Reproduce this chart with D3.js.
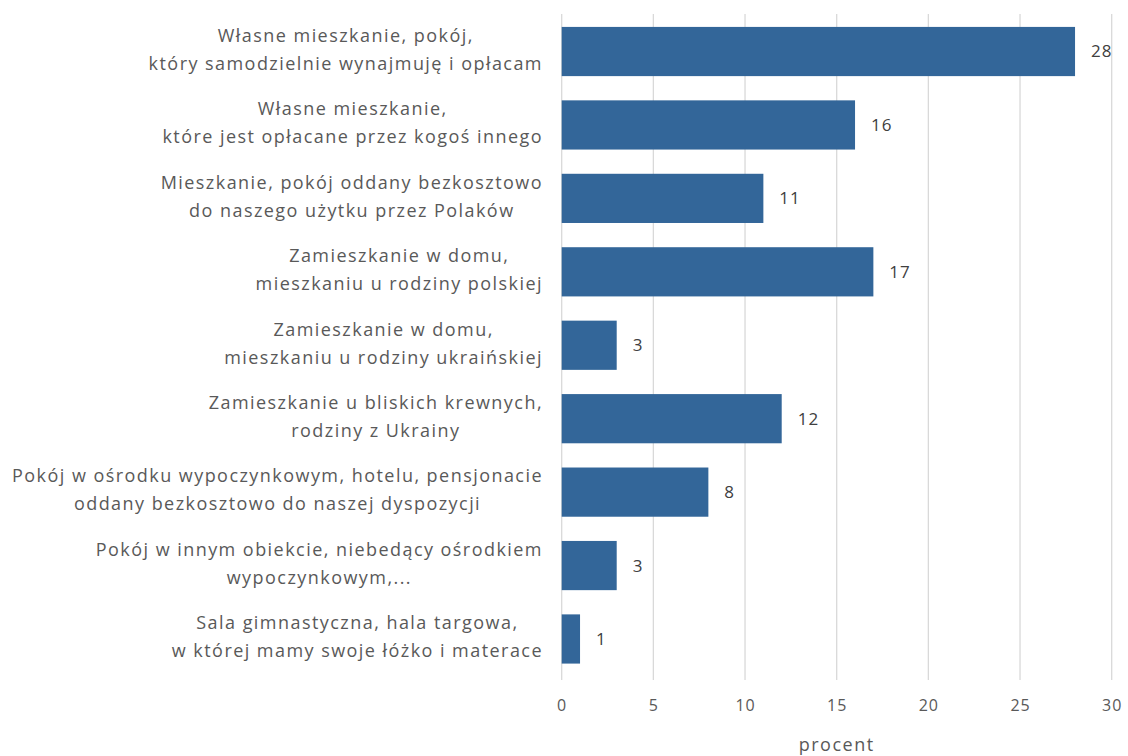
<!DOCTYPE html>
<html><head><meta charset="utf-8">
<script src="https://cdn.jsdelivr.net/npm/d3@7"></script>
<style>body{margin:0;background:#fff}</style>
</head><body>
<svg id="c" width="1128" height="756"></svg>
<script>
const categories = [
  ["Własne mieszkanie, pokój,", "który samodzielnie wynajmuję i opłacam"],
  ["Własne mieszkanie,", "które jest opłacane przez kogoś innego"],
  ["Mieszkanie, pokój oddany bezkosztowo", "do naszego użytku przez Polaków"],
  ["Zamieszkanie w domu,", "mieszkaniu u rodziny polskiej"],
  ["Zamieszkanie w domu,", "mieszkaniu u rodziny ukraińskiej"],
  ["Zamieszkanie u bliskich krewnych,", "rodziny z Ukrainy"],
  ["Pokój w ośrodku wypoczynkowym, hotelu, pensjonacie", "oddany bezkosztowo do naszej dyspozycji"],
  ["Pokój w innym obiekcie, niebedący ośrodkiem", "wypoczynkowym,..."],
  ["Sala gimnastyczna, hala targowa,", "w której mamy swoje łóżko i materace"]
];
const values = [28, 16, 11, 17, 3, 12, 8, 3, 1];
const xTicks = [0, 5, 10, 15, 20, 25, 30];
const axisTitle = "procent";

const svg = d3.select("#c");
const font = "'Open Sans', sans-serif";
const x = d3.scaleLinear().domain([0, 30]).range([561.7, 1111.7]);
const y = d3.scaleBand().domain(d3.range(categories.length)).range([14.8, 675.7]).paddingInner(0.33).paddingOuter(0.165);

// gridlines
svg.append("g").selectAll("line").data(xTicks).join("line")
  .attr("x1", d => x(d)).attr("x2", d => x(d))
  .attr("y1", 14).attr("y2", 680)
  .attr("stroke", "#d9d9d9").attr("stroke-width", 1.3);

// bars
svg.append("g").selectAll("rect").data(values).join("rect")
  .attr("x", x(0)).attr("y", (d, i) => y(i))
  .attr("width", d => x(d) - x(0)).attr("height", y.bandwidth())
  .attr("fill", "#336699");

// value labels
svg.append("g").selectAll("text").data(values).join("text")
  .attr("x", d => x(d) + 16).attr("y", (d, i) => y(i) + y.bandwidth() / 2)
  .attr("dy", "0.35em")
  .attr("font-family", font).attr("font-size", 17).attr("letter-spacing", 1)
  .attr("fill", "#404040")
  .text(d => d);

// category labels
const right = 543;
categories.forEach((lines, i) => {
  const g = svg.append("g");
  const cy = y(i) + y.bandwidth() / 2 - 2;
  const ts = lines.map((t, j) => g.append("text")
    .attr("y", cy + (j - (lines.length - 1) / 2) * 28)
    .attr("dy", "0.35em")
    .attr("font-family", font).attr("font-size", 18).attr("letter-spacing", 1.45)
    .attr("fill", "#595959")
    .attr("text-anchor", "middle").text(t));
  const maxW = d3.max(ts, t => t.node().getComputedTextLength());
  ts.forEach(t => t.attr("x", right - maxW / 2));
});

// x axis tick labels
const axis = d3.axisBottom(x).tickValues(xTicks).tickSize(0).tickPadding(0);
const ag = svg.append("g").attr("transform", "translate(0,700)").call(axis);
ag.select(".domain").remove();
ag.selectAll("text").attr("font-family", font).attr("font-size", 16)
  .attr("letter-spacing", 1).attr("fill", "#595959");

svg.append("text").attr("x", (x(0) + x(30)) / 2).attr("y", 751)
  .attr("text-anchor", "middle").attr("font-family", font).attr("font-size", 18)
  .attr("letter-spacing", 1.5)
  .attr("fill", "#595959").text(axisTitle);
</script>
</body></html>
